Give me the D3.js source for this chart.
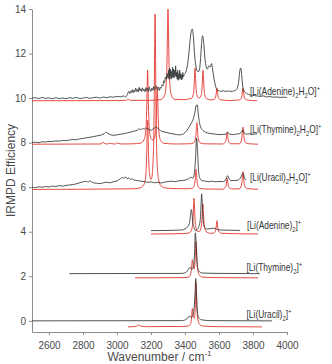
<!DOCTYPE html>
<html>
<head>
<meta charset="utf-8">
<script src="https://cdn.jsdelivr.net/npm/d3@7/dist/d3.min.js"></script>
<style>
  body { margin: 0; background: #fff; }
  svg { display: block; font-family: "Liberation Sans", Arial, Helvetica, sans-serif; }
</style>
</head>
<body>
<div id="chart"></div>
<script>
// tick values
let xTicks = [2600, 2800, 3000, 3200, 3400, 3600, 3800, 4000];
let yTicks = [0, 2, 4, 6, 8, 10, 12, 14];

// [Li(Adenine)2H2O]+  measured / calculated
let adenineH2OExp = [
  [2500,10.00],[2520,10.02],[2540,9.98],[2560,10.03],[2580,9.99],[2600,10.01],[2620,9.97],[2640,10.02],
  [2660,9.98],[2680,10.00],[2700,9.97],[2720,10.02],[2740,9.99],[2760,10.03],[2780,9.98],[2800,10.00],
  [2820,10.03],[2840,9.99],[2860,10.02],[2880,10.04],[2900,10.00],[2920,10.05],[2940,10.02],[2960,10.06],
  [2980,10.04],[3000,10.08],[3020,10.06],[3040,10.10],[3050,10.05],[3060,10.15],[3065,10.25],[3070,10.30],
  [3075,10.20],[3080,10.32],[3085,10.25],[3090,10.38],[3095,10.24],[3100,10.36],[3105,10.28],[3110,10.45],
  [3115,10.30],[3120,10.40],[3125,10.27],[3130,10.48],[3135,10.33],[3140,10.42],[3145,10.30],[3150,10.46],
  [3155,10.32],[3160,10.40],[3165,10.28],[3170,10.47],[3175,10.34],[3180,10.44],[3185,10.30],[3190,10.50],
  [3195,10.36],[3200,10.30],[3205,10.45],[3210,10.35],[3215,10.52],[3220,10.36],[3225,10.48],[3230,10.55],
  [3235,10.40],[3240,10.38],[3245,10.50],[3250,10.34],[3255,10.48],[3260,10.45],[3265,10.60],[3270,10.55],
  [3275,10.78],[3280,10.70],[3285,10.95],[3290,10.85],[3295,11.10],[3300,10.90],[3303,11.25],[3306,10.85],
  [3309,11.35],[3312,10.95],[3315,11.30],[3318,10.85],[3321,11.20],[3324,10.90],[3327,11.40],[3330,10.95],
  [3333,11.30],[3336,10.90],[3339,11.25],[3342,11.00],[3345,11.45],[3348,10.95],[3351,11.15],[3354,10.85],
  [3357,11.25],[3360,10.80],[3363,11.10],[3366,10.85],[3369,11.25],[3372,10.90],[3375,11.10],[3378,10.82],
  [3381,11.05],[3384,10.85],[3387,11.15],[3390,10.95],[3395,11.05],[3400,11.10],[3410,11.30],[3420,11.80],
  [3430,12.60],[3437,13.00],[3443,13.10],[3450,12.70],[3457,11.90],[3465,11.40],[3475,11.20],[3482,11.20],
  [3490,11.60],[3497,12.40],[3503,12.80],[3510,12.50],[3517,11.80],[3525,11.40],[3532,11.30],[3540,11.45],
  [3548,11.40],[3556,11.55],[3562,11.30],[3570,10.90],[3578,10.60],[3586,10.40],[3595,10.35],[3610,10.30],
  [3625,10.33],[3640,10.30],[3655,10.32],[3670,10.30],[3690,10.33],[3705,10.40],[3715,10.70],[3722,11.20],
  [3728,11.35],[3734,11.00],[3740,10.50],[3750,10.30],[3765,10.20],[3780,10.15],[3800,10.12],[3820,10.10],
  [3840,10.08],[3860,10.10],[3880,10.05],[3900,10.07],[3920,10.04],[3940,10.05],[3960,10.03],[3980,10.04],
  [4000,10.02]
];
let adenineH2OCalc = [
  [2500,9.88],[3000,9.89],[3050,9.90],[3060,9.93],[3065,9.96],[3070,9.93],[3080,9.90],[3200,9.90],
  [3260,9.94],[3280,10.13],[3290,10.70],[3295,11.94],[3298,13.42],[3300,14.00],[3302,13.42],[3305,11.94],
  [3310,10.70],[3320,10.13],[3340,9.94],[3400,9.93],[3420,9.96],[3439,9.99],[3449,10.17],[3454,10.62],
  [3457,11.14],[3459,11.35],[3461,11.14],[3464,10.62],[3469,10.17],[3483,10.00],[3496,10.15],[3501,10.57],
  [3504,11.06],[3506,11.25],[3508,11.06],[3511,10.57],[3516,10.15],[3526,9.98],[3550,9.92],[3568,9.93],
  [3578,9.99],[3583,10.17],[3586,10.37],[3588,10.45],[3590,10.37],[3593,10.17],[3598,9.99],[3610,9.93],
  [3660,9.89],[3720,9.92],[3731,9.99],[3736,10.17],[3739,10.37],[3741,10.45],[3743,10.37],[3746,10.17],
  [3751,9.99],[3765,9.92],[3790,9.89],[3824,9.88]
];

// [Li(Thymine)2H2O]+
let thymineH2OExp = [
  [2500,8.00],[2520,8.02],[2540,8.00],[2560,8.04],[2580,8.03],[2600,8.06],[2620,8.05],[2640,8.08],
  [2660,8.07],[2680,8.10],[2700,8.09],[2720,8.12],[2740,8.14],[2760,8.13],[2780,8.17],[2800,8.19],
  [2820,8.22],[2840,8.24],[2860,8.27],[2880,8.30],[2900,8.33],[2920,8.38],[2935,8.47],[2945,8.42],
  [2960,8.36],[2980,8.33],[3000,8.35],[3020,8.38],[3040,8.40],[3060,8.44],[3080,8.47],[3100,8.52],
  [3120,8.56],[3130,8.62],[3140,8.58],[3150,8.64],[3160,8.60],[3170,8.66],[3180,8.62],[3190,8.58],
  [3200,8.55],[3210,8.60],[3220,8.66],[3230,8.70],[3240,8.64],[3250,8.58],[3260,8.52],[3280,8.48],
  [3300,8.44],[3320,8.40],[3340,8.38],[3360,8.35],[3380,8.36],[3400,8.45],[3420,8.65],[3435,8.85],
  [3448,9.05],[3458,9.35],[3465,9.65],[3472,9.70],[3478,9.30],[3485,8.90],[3495,8.65],[3505,8.55],
  [3520,8.47],[3540,8.42],[3560,8.40],[3580,8.38],[3600,8.36],[3620,8.37],[3640,8.38],[3650,8.48],
  [3658,8.40],[3680,8.36],[3700,8.38],[3720,8.40],[3732,8.48],[3740,8.58],[3748,8.45],[3760,8.38],
  [3780,8.40],[3800,8.38],[3825,8.40]
];
let thymineH2OCalc = [
  [2500,7.93],[2900,7.94],[2912,7.97],[2918,8.03],[2924,7.97],[2940,7.94],[2955,7.96],[2960,7.98],
  [2965,7.96],[2990,7.94],[2996,7.97],[3000,7.99],[3004,7.97],[3030,7.94],[3100,7.95],[3140,7.98],
  [3160,8.15],[3170,8.60],[3175,9.60],[3178,10.80],[3180,11.26],[3182,10.80],[3185,9.60],[3190,8.60],
  [3200,8.18],[3210,8.12],[3217,8.15],[3227,8.50],[3232,9.25],[3235,10.14],[3237,10.50],[3239,10.14],
  [3242,9.22],[3247,8.44],[3257,8.09],[3277,7.97],[3350,7.94],[3430,7.95],[3450,7.99],[3460,8.12],
  [3465,8.42],[3468,8.76],[3470,8.90],[3472,8.76],[3475,8.42],[3480,8.12],[3490,7.99],[3510,7.95],
  [3620,7.94],[3638,8.03],[3643,8.19],[3646,8.38],[3648,8.45],[3650,8.38],[3653,8.19],[3658,8.03],
  [3670,7.95],[3720,7.95],[3731,8.08],[3736,8.32],[3739,8.60],[3741,8.70],[3743,8.60],[3746,8.32],
  [3751,8.08],[3765,7.96],[3830,7.93]
];

// [Li(Uracil)2H2O]+
let uracilH2OExp = [
  [2500,6.00],[2520,5.98],[2540,6.02],[2560,6.00],[2580,6.03],[2600,6.01],[2620,6.05],[2640,6.03],
  [2660,6.07],[2680,6.05],[2700,6.08],[2720,6.10],[2740,6.12],[2760,6.15],[2780,6.20],[2800,6.24],
  [2820,6.27],[2830,6.22],[2840,6.29],[2850,6.24],[2860,6.20],[2880,6.18],[2900,6.16],[2920,6.20],
  [2940,6.22],[2960,6.20],[2980,6.25],[3000,6.28],[3010,6.33],[3020,6.38],[3030,6.44],[3040,6.40],
  [3050,6.46],[3060,6.38],[3070,6.42],[3080,6.35],[3090,6.38],[3100,6.32],[3120,6.30],[3140,6.27],
  [3160,6.25],[3180,6.22],[3200,6.24],[3220,6.20],[3240,6.22],[3260,6.19],[3280,6.23],[3300,6.25],
  [3320,6.27],[3340,6.25],[3360,6.28],[3380,6.30],[3400,6.32],[3420,6.38],[3435,6.45],[3445,6.40],
  [3455,6.60],[3462,7.30],[3468,8.20],[3474,7.60],[3480,6.70],[3488,6.40],[3500,6.30],[3520,6.27],
  [3540,6.25],[3560,6.27],[3580,6.24],[3600,6.26],[3620,6.25],[3640,6.32],[3650,6.52],[3658,6.40],
  [3670,6.30],[3690,6.30],[3710,6.32],[3725,6.40],[3735,6.55],[3742,6.62],[3750,6.40],[3760,6.32]
];
let uracilH2OCalc = [
  [2500,5.90],[3100,5.93],[3140,5.98],[3160,6.14],[3170,6.60],[3175,7.55],[3178,8.67],[3180,9.00],
  [3182,8.67],[3185,7.60],[3190,6.70],[3200,6.35],[3204,6.40],[3214,7.53],[3219,9.85],[3222,12.70],
  [3224,13.77],[3226,12.70],[3229,9.84],[3234,7.50],[3244,6.38],[3260,6.05],[3300,5.95],[3420,5.93],
  [3445,5.96],[3455,6.08],[3460,6.35],[3463,6.67],[3465,6.80],[3467,6.67],[3470,6.35],[3475,6.08],
  [3485,5.96],[3520,5.92],[3620,5.91],[3638,6.00],[3643,6.15],[3646,6.33],[3648,6.40],[3650,6.33],
  [3653,6.15],[3658,6.00],[3680,5.92],[3720,5.93],[3731,6.06],[3736,6.30],[3739,6.59],[3741,6.70],
  [3743,6.59],[3746,6.30],[3751,6.06],[3765,5.94],[3830,5.91]
];

// [Li(Adenine)2]+
let adenineExp = [
  [3200,4.05],[3300,4.06],[3380,4.08],[3400,4.12],[3415,4.22],[3425,4.35],[3432,4.70],[3437,5.00],
  [3441,4.85],[3446,4.40],[3455,4.15],[3462,4.05],[3472,4.10],[3482,4.25],[3490,4.55],[3495,5.30],
  [3498,5.70],[3502,5.20],[3507,4.50],[3515,4.20],[3530,4.12],[3555,4.15],[3570,4.16],[3585,4.12],
  [3600,4.08],[3650,4.07],[3723,4.06]
];
let adenineCalc = [
  [3200,3.90],[3400,3.92],[3425,3.96],[3433,4.00],[3443,4.22],[3448,4.70],[3451,5.28],[3453,5.50],
  [3455,5.28],[3458,4.70],[3463,4.22],[3473,4.02],[3485,4.02],[3495,4.20],[3500,4.58],[3503,5.06],
  [3505,5.25],[3507,5.06],[3510,4.58],[3515,4.20],[3525,4.00],[3550,3.93],[3570,3.94],[3578,4.02],
  [3583,4.20],[3586,4.42],[3588,4.50],[3590,4.42],[3593,4.20],[3598,4.02],[3615,3.93],[3830,3.90]
];

// [Li(Thymine)2]+
let thymineExp = [
  [2720,2.12],[3380,2.13],[3410,2.20],[3422,2.35],[3430,2.40],[3440,2.30],[3450,2.45],[3456,3.00],
  [3461,3.95],[3466,3.40],[3471,2.60],[3480,2.25],[3500,2.15],[3600,2.13],[3840,2.12]
];
let thymineCalc = [
  [3106,1.93],[3400,1.94],[3425,1.98],[3433,2.10],[3438,2.35],[3441,2.62],[3443,2.75],[3445,2.68],
  [3448,2.47],[3454,2.34],[3460,2.80],[3463,3.36],[3465,3.55],[3467,3.33],[3470,2.75],[3475,2.27],
  [3485,2.05],[3505,1.96],[3600,1.94],[3830,1.93]
];

// [Li(Uracil)2]+
let uracilExp = [
  [2500,0.00],[3380,0.01],[3410,0.08],[3420,0.18],[3426,0.22],[3435,0.15],[3448,0.30],[3455,0.70],
  [3460,1.40],[3463,1.90],[3467,1.30],[3472,0.50],[3480,0.15],[3495,0.05],[3550,0.01],[3912,0.00]
];
let uracilCalc = [
  [3065,-0.27],[3110,-0.25],[3124,-0.18],[3140,-0.24],[3180,-0.26],[3400,-0.25],[3425,-0.21],[3433,-0.12],
  [3438,0.07],[3441,0.42],[3443,0.55],[3446,0.38],[3450,0.15],[3455,0.12],[3460,0.55],[3463,1.25],
  [3465,1.72],[3467,1.25],[3470,0.60],[3475,0.10],[3485,-0.15],[3505,-0.23],[3600,-0.26],[3853,-0.27]
];

// trace labels
let labelNames = ["Adenine", "Thymine", "Uracil", "Adenine", "Thymine", "Uracil"];
let labelHydrated = [true, true, true, false, false, false];
let labelAnchorX = [3782, 3782, 3782, 3765, 3762, 3762];
let labelAnchorY = [10.14, 8.43, 6.28, 4.12, 2.24, 0.13];

let width = 332, height = 364;
let margin = { top: 9, right: 45, bottom: 32, left: 32 };

let svg = d3.select("#chart").append("svg")
  .attr("width", width)
  .attr("height", height);

let x = d3.scaleLinear().domain([2500, 4000]).range([margin.left, width - margin.right]);
let y = d3.scaleLinear().domain([-0.5, 14]).range([height - margin.bottom, margin.top]);

let axisColor = "#8c8c8c";
let textColor = "#4a4a4a";

// axes
let xAxis = svg.append("g")
  .attr("transform", "translate(0," + (height - margin.bottom) + ")")
  .call(d3.axisBottom(x).tickValues(xTicks).tickFormat(d3.format("d")).tickSizeInner(3).tickSizeOuter(0));
let yAxis = svg.append("g")
  .attr("transform", "translate(" + margin.left + ",0)")
  .call(d3.axisLeft(y).tickValues(yTicks).tickSizeInner(3).tickSizeOuter(0));

[xAxis, yAxis].forEach(function(g) {
  g.select(".domain").attr("stroke", axisColor).attr("stroke-width", 1);
  g.selectAll(".tick line").attr("stroke", axisColor);
  g.selectAll(".tick text")
    .attr("fill", textColor)
    .style("font-family", "'Liberation Sans', Arial, sans-serif")
    .style("font-size", "10px");
});
xAxis.selectAll(".tick text").attr("dy", "1.05em");
yAxis.selectAll(".tick text").attr("x", -6);

// traces
let line = d3.line()
  .x(function(d) { return x(d[0]); })
  .y(function(d) { return y(d[1]); })
  .curve(d3.curveMonotoneX);

let calcSeries = [adenineH2OCalc, thymineH2OCalc, uracilH2OCalc, adenineCalc, thymineCalc, uracilCalc];
let expSeries = [adenineH2OExp, thymineH2OExp, uracilH2OExp, adenineExp, thymineExp, uracilExp];

svg.append("g").selectAll("path")
  .data(calcSeries)
  .enter().append("path")
  .attr("d", line)
  .attr("fill", "none")
  .attr("stroke", "#e2352c")
  .attr("stroke-width", 0.9);

svg.append("g").selectAll("path")
  .data(expSeries)
  .enter().append("path")
  .attr("d", line)
  .attr("fill", "none")
  .attr("stroke", "#2f3434")
  .attr("stroke-width", 0.85);

// labels (narrowed horizontally to fit like the condensed original)
let labels = svg.append("g")
  .style("font-size", "10px")
  .attr("fill", "#333");

labelNames.forEach(function(name, i) {
  let t = labels.append("text")
    .attr("transform", "translate(" + x(labelAnchorX[i]) + "," + y(labelAnchorY[i]) + ") scale(0.84,1)");
  t.append("tspan").text("[Li(" + name + ")");
  t.append("tspan").attr("dy", 3).style("font-size", "7px").text("2");
  if (labelHydrated[i]) {
    t.append("tspan").attr("dy", -3).text("H");
    t.append("tspan").attr("dy", 3).style("font-size", "7px").text("2");
    t.append("tspan").attr("dy", -3).text("O]");
  } else {
    t.append("tspan").attr("dy", -3).text("]");
  }
  t.append("tspan").attr("dy", -4).style("font-size", "7px").text("+");
});

// axis titles
svg.append("text")
  .attr("transform", "translate(15," + ((margin.top + height - margin.bottom) / 2) + ") rotate(-90)")
  .attr("text-anchor", "middle")
  .attr("fill", textColor)
  .style("font-size", "12px")
  .text("IRMPD Efficiency");

let xt = svg.append("text")
  .attr("x", (margin.left + width - margin.right) / 2)
  .attr("y", 361)
  .attr("text-anchor", "middle")
  .attr("fill", textColor)
  .style("font-size", "12px");
xt.append("tspan").text("Wavenumber / cm");
xt.append("tspan").attr("dy", -5).style("font-size", "8px").text("-1");
</script>
</body>
</html>
